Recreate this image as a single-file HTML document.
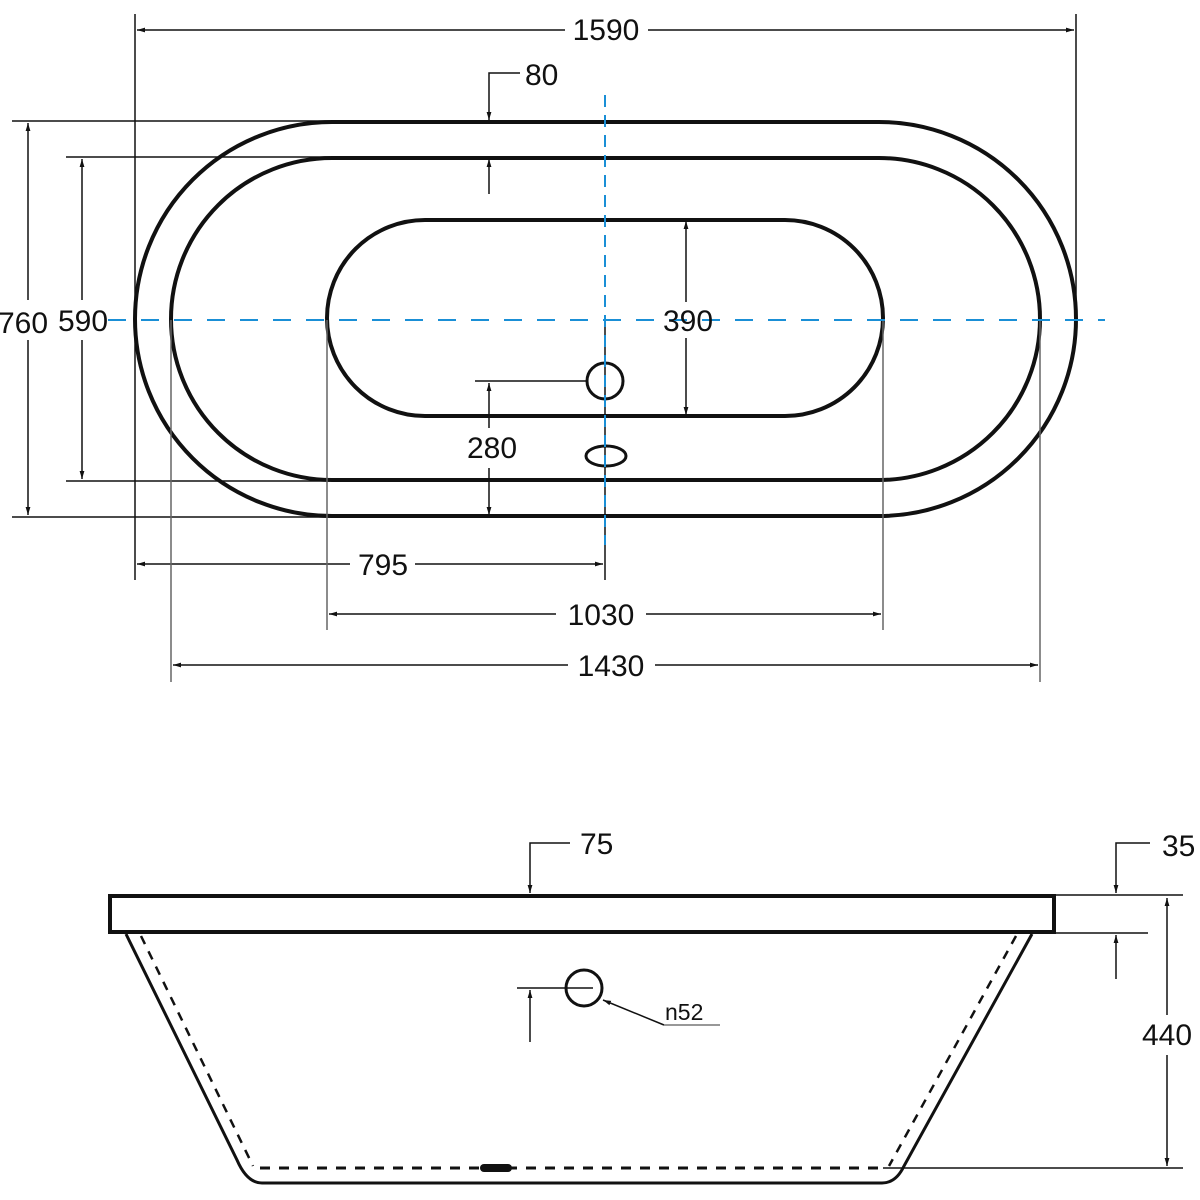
<!DOCTYPE html>
<html><head><meta charset="utf-8"><style>
html,body{margin:0;padding:0;background:#fff;}
svg{display:block}
text{font-family:"Liberation Sans",sans-serif;fill:#111;font-size:30px}
</style></head><body>
<svg width="1200" height="1200" viewBox="0 0 1200 1200" xmlns="http://www.w3.org/2000/svg">
<defs>
<marker id="a" viewBox="0 0 10 10" refX="10" refY="5" markerWidth="8" markerHeight="8" orient="auto-start-reverse" markerUnits="userSpaceOnUse"><path d="M0,2 L10,5 L0,8 z" fill="#111"/></marker>
</defs>
<g fill="none" stroke="#111" stroke-width="4">
<rect x="135" y="122" width="941" height="394" rx="197"/>
<rect x="171" y="158" width="869" height="322" rx="161"/>
<rect x="327" y="220" width="556" height="196" rx="98"/>
<circle cx="605" cy="381" r="18" stroke-width="3"/>
<ellipse cx="606" cy="456" rx="20" ry="10" stroke-width="3"/>
</g>
<g stroke="#111" stroke-width="1.5" fill="none">
<!-- 1590 -->
<line x1="135" y1="14" x2="135" y2="580"/>
<line x1="1076" y1="14" x2="1076" y2="320"/>
<line x1="137" y1="30" x2="565" y2="30" marker-start="url(#a)"/>
<line x1="648" y1="30" x2="1074" y2="30" marker-end="url(#a)"/>
<!-- 80 -->
<polyline points="520,73 489,73 489,120" marker-end="url(#a)"/>
<line x1="489" y1="194" x2="489" y2="159" marker-end="url(#a)"/>
<!-- 760 -->
<line x1="12" y1="121" x2="330" y2="121"/>
<line x1="12" y1="517" x2="330" y2="517"/>
<line x1="28" y1="123" x2="28" y2="300" marker-start="url(#a)"/>
<line x1="28" y1="340" x2="28" y2="515" marker-end="url(#a)"/>
<!-- 590 -->
<line x1="66" y1="157" x2="330" y2="157"/>
<line x1="66" y1="481" x2="330" y2="481"/>
<line x1="82" y1="159" x2="82" y2="300" marker-start="url(#a)"/>
<line x1="82" y1="340" x2="82" y2="479" marker-end="url(#a)"/>
<!-- 390 -->
<line x1="686" y1="221" x2="686" y2="302" marker-start="url(#a)"/>
<line x1="686" y1="338" x2="686" y2="415" marker-end="url(#a)"/>
<!-- 280 -->
<line x1="475" y1="381" x2="588" y2="381"/>
<line x1="489" y1="383" x2="489" y2="428" marker-start="url(#a)"/>
<line x1="489" y1="468" x2="489" y2="515" marker-end="url(#a)"/>
<!-- 795 -->
<line x1="605" y1="320" x2="605" y2="580"/>
<line x1="137" y1="564" x2="350" y2="564" marker-start="url(#a)"/>
<line x1="415" y1="564" x2="603" y2="564" marker-end="url(#a)"/>
</g>
<g stroke="#666" stroke-width="1.5" fill="none">
<line x1="327" y1="320" x2="327" y2="630"/>
<line x1="883" y1="320" x2="883" y2="630"/>
<line x1="171" y1="320" x2="171" y2="682"/>
<line x1="1040" y1="320" x2="1040" y2="682"/>
</g>
<g stroke="#111" stroke-width="1.5" fill="none">
<line x1="329" y1="614" x2="556" y2="614" marker-start="url(#a)"/>
<line x1="646" y1="614" x2="881" y2="614" marker-end="url(#a)"/>
<line x1="173" y1="665" x2="568" y2="665" marker-start="url(#a)"/>
<line x1="655" y1="665" x2="1038" y2="665" marker-end="url(#a)"/>
</g>
<g stroke="#1a8fd6" stroke-width="2" stroke-dasharray="18,15" fill="none">
<line x1="108" y1="320" x2="1105" y2="320"/>
<line x1="605" y1="95" x2="605" y2="545" stroke-dasharray="12,8"/>
</g>
<text x="606" y="40" text-anchor="middle">1590</text>
<text x="525" y="85">80</text>
<text x="-2" y="333">760</text>
<text x="58" y="331">590</text>
<text x="688" y="331" text-anchor="middle">390</text>
<text x="492" y="458" text-anchor="middle">280</text>
<text x="383" y="575" text-anchor="middle">795</text>
<text x="601" y="625" text-anchor="middle">1030</text>
<text x="611" y="676" text-anchor="middle">1430</text>

<!-- side view -->
<g fill="none" stroke="#111">
<rect x="110" y="896" width="944" height="36" stroke-width="4"/>
<path d="M126,934 L237,1160 Q247,1183 262,1183 L882,1183 Q896,1183 904,1166 L1032,934" stroke-width="3"/>
<path d="M141,936 L253,1166" stroke-width="2.5" stroke-dasharray="9,8"/>
<path d="M1016,936 L889,1166" stroke-width="2.5" stroke-dasharray="9,8"/>
<line x1="260" y1="1168" x2="882" y2="1168" stroke-width="3" stroke-dasharray="10,9"/>
<circle cx="584" cy="988" r="18" stroke-width="3"/>
</g>
<rect x="480" y="1164" width="32" height="8" rx="4" fill="#111"/>
<g stroke="#111" stroke-width="1.5" fill="none">
<polyline points="570,843 530,843 530,893" marker-end="url(#a)"/>
<line x1="517" y1="988" x2="593" y2="988"/>
<line x1="530" y1="1042" x2="530" y2="990" marker-end="url(#a)"/>
<polyline points="1150,843 1116,843 1116,893" marker-end="url(#a)"/>
<line x1="1116" y1="979" x2="1116" y2="935" marker-end="url(#a)"/>
<line x1="1056" y1="895" x2="1183" y2="895"/>
<line x1="1056" y1="933" x2="1148" y2="933"/>
<line x1="883" y1="1168" x2="1183" y2="1168"/>
<line x1="1167" y1="898" x2="1167" y2="1015" marker-start="url(#a)"/>
<line x1="1167" y1="1055" x2="1167" y2="1166" marker-end="url(#a)"/>
<line x1="664" y1="1025" x2="603" y2="1000" marker-end="url(#a)"/>
</g>
<line x1="664" y1="1025" x2="720" y2="1025" stroke="#777" stroke-width="1.5"/>
<text x="580" y="854">75</text>
<text x="1162" y="856">35</text>
<text x="1167" y="1045" text-anchor="middle">440</text>
<text x="665" y="1020" style="font-size:23px">n52</text>
</svg>
</body></html>
